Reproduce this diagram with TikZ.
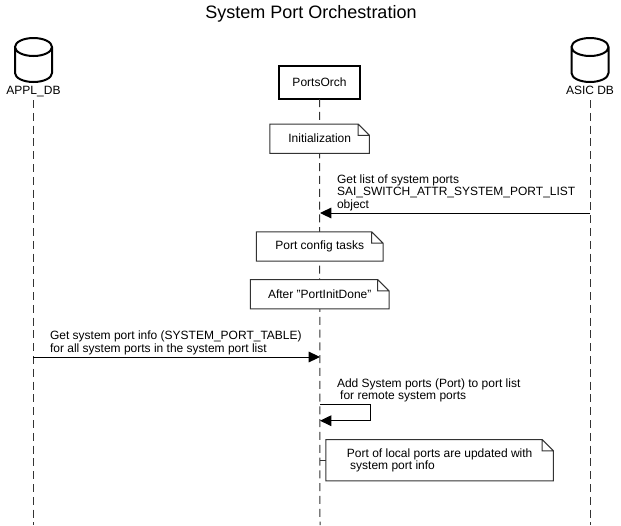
\documentclass[tikz,border=0pt]{standalone}
\usepackage{fontspec}
\setmainfont{Liberation Sans}
\usetikzlibrary{arrows.meta, positioning}

\begin{document}
\begin{tikzpicture}[
    x=0.75pt, y=-0.75pt,
    every node/.style={font=\fontsize{9}{9.3}\selectfont},
    database/.style={rectangle, minimum width=27.75pt, minimum height=33pt, inner sep=0pt, outer sep=0pt,
                 append after command={\pgfextra{
                    \draw[draw=black, line width=1.5pt]
                        ([yshift=-6.75pt]\tikzlastnode.north west) -- ([yshift=6.75pt]\tikzlastnode.south west)
                        arc[start angle=180, end angle=360, x radius=13.875pt, y radius=6.75pt]
                        -- ([yshift=-6.75pt]\tikzlastnode.north east)
                        arc[start angle=0, end angle=180, x radius=13.875pt, y radius=6.75pt]
                        arc[start angle=180, end angle=360, x radius=13.875pt, y radius=6.75pt];
                 }}},
    caption/.style={inner sep=0pt, outer sep=0pt},
    participant/.style={rectangle, draw=black, line width=1.5pt, fill=white,
                        minimum width=61pt, minimum height=25pt, outer sep=0pt},
    lifeline/.style={draw=black!80, line width=0.75pt, dash pattern=on 6pt off 3.6pt},
    message/.style={inner sep=0pt, outer sep=0pt, anchor=west, align=left},
    arrow/.style={-{Triangle[length=8.5pt,width=8pt]}, line width=0.75pt},
    note/.style={rectangle, inner sep=0pt, outer sep=0pt, align=left,
                 append after command={\pgfextra{
                    \filldraw[draw=black!80, fill=white, line width=0.75pt, line join=miter]
                        (\tikzlastnode.south west) -- (\tikzlastnode.north west)
                        -- ([xshift=-8.5pt]\tikzlastnode.north east)
                        -- ([yshift=-8.5pt]\tikzlastnode.north east)
                        -- (\tikzlastnode.south east) -- cycle
                        ([xshift=-8.5pt]\tikzlastnode.north east)
                        -- ([xshift=-8.5pt,yshift=-8.5pt]\tikzlastnode.north east)
                        -- ([yshift=-8.5pt]\tikzlastnode.north east);
                 }}}
]
\useasboundingbox (0,0) rectangle (621,525);

% Title
\node (title) [font=\fontsize{13.5}{15}\selectfont] at (311,14) {System Port Orchestration};

% Participants
\node (appldb) [database] at (33.5,60) {};
\node (appllabel) [caption, below=3pt of appldb] {APPL\_DB};
\node (asicdb) [database] at (590,60) {};
\node (asiclabel) [caption, below=3pt of asicdb] {ASIC DB};
\node (portsorch) [participant] at (319.5,82.5) {PortsOrch};

\coordinate (applend) at (33,525);
\coordinate (orchend) at (320,525);
\coordinate (asicend) at (590,525);

% Lifelines
\draw [lifeline] (33,100) -- (applend);
\draw [lifeline] (portsorch.south) -- (orchend);
\draw [lifeline] (590,100) -- (asicend);

% Notes
\node (noteinit) [note, minimum width=74.6pt, minimum height=22pt] at (319.7,138.7) {Initialization};
\node (noteconfig) [note, minimum width=95pt, minimum height=22pt] at (319.7,246.5) {Port config tasks};
\node (notedone) [note, minimum width=104pt, minimum height=22pt] at (319.7,294.3) {After "PortInitDone"};
\node (notelocal) [note, minimum width=170.6pt, minimum height=31pt] at (439.7,460.2)
    {Port of local ports are updated with\hspace{2pt}\\\hspace{2.4pt}system port info};
\coordinate (orchlocal) at (320,460.2);
\draw [draw=black!80, line width=0.75pt] (orchlocal) -- (notelocal.west);

% Messages
\coordinate (asicget) at (590,213);
\coordinate (orchget) at (320,213);
\draw [arrow] (asicget) -- (orchget);
\node (msgget) [message] at (337,192.5) {Get list of system ports\\SAI\_SWITCH\_ATTR\_SYSTEM\_PORT\_LIST\\object};

\coordinate (applinfo) at (33,357);
\coordinate (orchinfo) at (320,357);
\draw [arrow] (applinfo) -- (orchinfo);
\node (msginfo) [message] at (50,343) {Get system port info (SYSTEM\_PORT\_TABLE)\\for all system ports in the system port list};

\coordinate (selfstart) at (320,404.3);
\coordinate (selfend) at (320,420.7);
\draw [arrow] (selfstart) -| (370,420.7) -- (selfend);
\node (msgadd) [message] at (337,390.5) {Add System ports (Port) to port list\\\hspace{2.4pt}for remote system ports};

\end{tikzpicture}
\end{document}
